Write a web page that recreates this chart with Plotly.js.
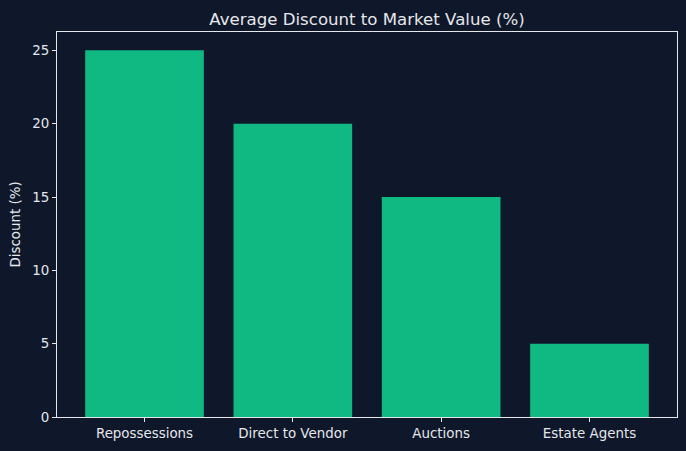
<!DOCTYPE html>
<html>
<head>
<meta charset="utf-8">
<script src="https://cdn.plot.ly/plotly-3.0.1.min.js"></script>
<style>html,body{margin:0;padding:0;background:#0f172a;}#chart{width:686px;height:451px;}</style>
</head>
<body>
<div id="chart"></div>
<script>
const categories = ["Repossessions", "Direct to Vendor", "Auctions", "Estate Agents"];
const discounts = [25, 20, 15, 5];
const yTicks = [0, 5, 10, 15, 20, 25];

const textColor = "#e5e7eb";
const fontFam = "DejaVu Sans, sans-serif";

Plotly.newPlot("chart", [{
  type: "bar",
  x: [0, 1, 2, 3],
  y: discounts,
  width: 0.8,
  marker: {color: "#10b981"},
  hoverinfo: "none"
}], {
  width: 686, height: 451,
  paper_bgcolor: "#0f172a",
  plot_bgcolor: "#0f172a",
  margin: {l: 57, r: 9, t: 32, b: 34},
  showlegend: false,
  title: {text: "Average Discount to Market Value (%)", font: {family: fontFam, size: 16.6, color: textColor}, x: 0.5, xref: "paper", y: 1, yref: "paper", yanchor: "bottom", pad: {b: 7}},
  xaxis: {
    range: [-0.59, 3.59],
    tickvals: [0, 1, 2, 3],
    ticktext: categories,
    ticks: "outside", ticklen: 4, tickcolor: textColor, tickwidth: 1,
    tickfont: {family: fontFam, size: 13.4, color: textColor},
    showgrid: false, zeroline: false,
    showline: true, linecolor: textColor, linewidth: 1, mirror: true
  },
  yaxis: {
    range: [0, 26.25],
    tickvals: yTicks,
    ticks: "outside", ticklen: 4, tickcolor: textColor, tickwidth: 1,
    tickfont: {family: fontFam, size: 13.4, color: textColor},
    showgrid: false, zeroline: false,
    showline: true, linecolor: textColor, linewidth: 1, mirror: true,
    title: {text: "Discount (%)", font: {family: fontFam, size: 13.4, color: textColor}, standoff: 8}
  }
}, {displayModeBar: false, staticPlot: true});
</script>
</body>
</html>
